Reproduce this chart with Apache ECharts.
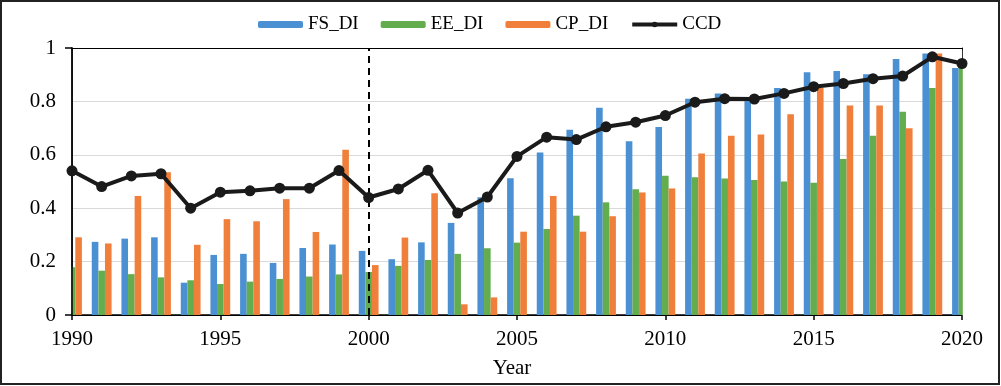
<!DOCTYPE html>
<html>
<head>
<meta charset="utf-8">
<script src="https://cdn.jsdelivr.net/npm/echarts@6/dist/echarts.min.js"></script>
<style>
html,body{margin:0;padding:0;background:#fff;}
#chart{width:1001px;height:386px;}
</style>
</head>
<body>
<div id="chart"></div>
<script>
var years = [1990,1991,1992,1993,1994,1995,1996,1997,1998,1999,2000,2001,2002,2003,2004,2005,2006,2007,2008,2009,2010,2011,2012,2013,2014,2015,2016,2017,2018,2019,2020];
var fsDI = [0.20,0.274,0.286,0.291,0.121,0.225,0.229,0.195,0.251,0.264,0.240,0.209,0.272,0.345,0.441,0.512,0.609,0.694,0.776,0.651,0.704,0.810,0.830,0.810,0.850,0.909,0.914,0.902,0.959,0.979,0.925];
var eeDI = [0.179,0.166,0.153,0.141,0.130,0.116,0.125,0.135,0.144,0.152,0.161,0.184,0.206,0.229,0.250,0.271,0.322,0.372,0.422,0.471,0.522,0.516,0.511,0.506,0.500,0.495,0.584,0.671,0.761,0.850,0.930];
var cpDI = [0.291,0.268,0.446,0.535,0.263,0.359,0.351,0.434,0.311,0.619,0.187,0.290,0.456,0.040,0.066,0.312,0.446,0.312,0.370,0.459,0.474,0.605,0.671,0.676,0.752,0.850,0.785,0.785,0.699,0.979,0.950];
var ccd  = [0.540,0.481,0.521,0.529,0.400,0.460,0.465,0.475,0.475,0.541,0.440,0.472,0.542,0.382,0.442,0.594,0.666,0.657,0.705,0.722,0.747,0.797,0.810,0.809,0.830,0.855,0.867,0.885,0.895,0.967,0.942];
var yTicks = [0,0.2,0.4,0.6,0.8,1];

function pairs(arr){ return years.map(function(y,i){ return [y, arr[i]]; }); }

var serif = '"Liberation Serif","Times New Roman",serif';
var chart = echarts.init(document.getElementById('chart'));
var barW = 6.6;
chart.setOption({
  animation: false,
  grid: {left: 72, right: 39, top: 48, bottom: 71},
  legend: {
    left: 253, top: 10,
    itemWidth: 45, itemHeight: 7, itemGap: 22,
    textStyle: {fontFamily: serif, fontSize: 19, color: '#000'},
    data: ['FS_DI','EE_DI','CP_DI',
      {name: 'CCD', lineStyle: {width: 4, color: '#1a1a1a'}}]
  },
  graphic: [
    {type: 'rect', silent: true, z: 3,
     shape: {x: 56, y: 49.5, width: 15.2, height: 266.5},
     style: {fill: '#fff', stroke: null}},
    {type: 'rect', silent: true, z: 3,
     shape: {x: 962.8, y: 49.5, width: 20, height: 266.5},
     style: {fill: '#fff', stroke: null}},
    {type: 'rect', silent: true, z: 10,
     shape: {x: 1, y: 1, width: 998, height: 383},
     style: {fill: 'none', stroke: '#222', lineWidth: 2}}
  ],
  xAxis: {
    type: 'value', min: 1990, max: 2020, interval: 5,
    name: 'Year', nameLocation: 'middle', nameGap: 43,
    nameTextStyle: {fontFamily: serif, fontSize: 21, color: '#000', padding: [0, 10, 0, 0]},
    axisLine: {show: true, lineStyle: {color: '#000', width: 1.5}},
    axisTick: {show: true, inside: false, length: 5, lineStyle: {color: '#000', width: 1.5}},
    axisLabel: {fontFamily: serif, fontSize: 21, color: '#000', margin: 14, formatter: function(v){ return String(v); }},
    splitLine: {show: false}
  },
  yAxis: [{
    type: 'value', min: yTicks[0], max: yTicks[yTicks.length-1], interval: 0.2,
    axisLine: {show: true, lineStyle: {color: '#000', width: 1.5}},
    axisTick: {show: false},
    axisLabel: {fontFamily: serif, fontSize: 21, color: '#000', margin: 16, formatter: function(v){ return String(+v.toFixed(1)); }},
    splitLine: {show: true, lineStyle: {color: ['#000','#d9d9d9','#d9d9d9','#d9d9d9','#d9d9d9','#000'], width: 1.2}}
  }, {
    type: 'value', min: 0, max: 1, interval: 1, position: 'left', z: 4,
    axisLine: {show: true, lineStyle: {color: '#000', width: 1.5}},
    axisTick: {show: true, length: 7, lineStyle: {color: '#000', width: 1.5}},
    axisLabel: {show: false}, splitLine: {show: false}
  }, {
    type: 'value', min: 0, max: 1, interval: 1, position: 'right',
    axisLine: {show: true, lineStyle: {color: '#000', width: 1}},
    axisTick: {show: false}, axisLabel: {show: false}, splitLine: {show: false}
  }],
  series: [
    {name: 'FS_DI', type: 'bar', data: pairs(fsDI), barWidth: barW, barGap: '0%', itemStyle: {color: '#4A90D2'}, clip: true},
    {name: 'EE_DI', type: 'bar', data: pairs(eeDI), barWidth: barW, barGap: '0%', itemStyle: {color: '#63AD4E'}, clip: true},
    {name: 'CP_DI', type: 'bar', data: pairs(cpDI), barWidth: barW, barGap: '0%', itemStyle: {color: '#F07F3C'}, clip: true},
    {name: 'CCD', type: 'line', data: pairs(ccd), clip: false,
     symbol: 'circle', symbolSize: 11,
     lineStyle: {color: '#1a1a1a', width: 4},
     itemStyle: {color: '#1a1a1a'},
     z: 5,
     markLine: {
       silent: true, symbol: ['none','none'], label: {show: false},
       lineStyle: {color: '#000', type: [7,5], width: 2},
       data: [{xAxis: 2000}]
     }
    }
  ]
});
</script>
</body>
</html>
